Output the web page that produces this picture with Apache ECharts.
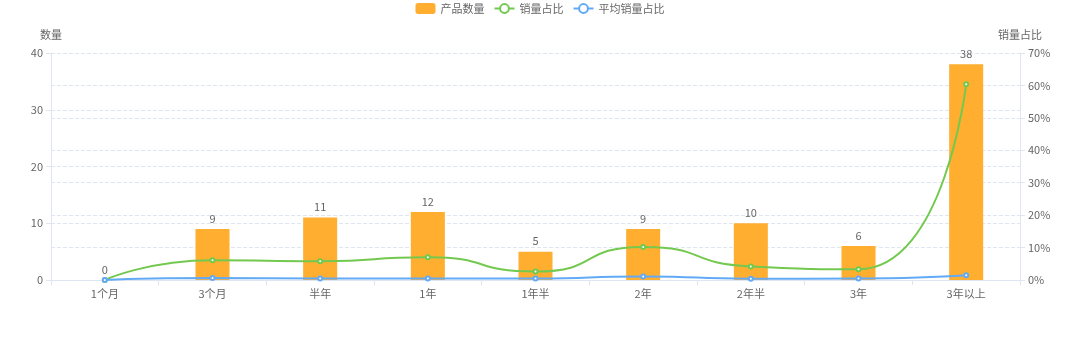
<!DOCTYPE html>
<html>
<head>
<meta charset="utf-8">
<style>
  html, body { margin: 0; padding: 0; background: #fff; }
  #chart { width: 1080px; height: 338px; }
</style>
<script src="https://cdn.jsdelivr.net/npm/echarts@6/dist/echarts.min.js"></script>
</head>
<body>
<div id="chart"></div>
<script>
// 数据
const categories = ['1个月', '3个月', '半年', '1年', '1年半', '2年', '2年半', '3年', '3年以上'];
const productCount = [0, 9, 11, 12, 5, 9, 10, 6, 38];
const salesShare = [0, 6.1, 5.8, 7.0, 2.6, 10.2, 4.2, 3.3, 60.4];
const avgSalesShare = [0, 0.6, 0.5, 0.5, 0.5, 1.1, 0.4, 0.5, 1.5];

const chart = echarts.init(document.getElementById('chart'));
const font = '"Noto Sans CJK SC", sans-serif';
const gray = '#666';
const lineColor = '#E0E6F1';
const fs = 11;

chart.setOption({
  animation: false,
  textStyle: { fontFamily: font },
  legend: {
    top: 3,
    padding: 0,
    left: 'center',
    itemWidth: 20,
    itemHeight: 11,
    itemGap: 9,
    textStyle: { color: gray, fontSize: fs, fontFamily: font },
    data: ['产品数量', '销量占比', '平均销量占比']
  },
  grid: { left: 51, right: 60, top: 53, bottom: 58 },
  xAxis: {
    type: 'category',
    data: categories,
    axisLine: { lineStyle: { color: lineColor } },
    axisTick: { show: true, lineStyle: { color: lineColor } },
    axisLabel: { color: gray, fontSize: fs, fontFamily: font }
  },
  yAxis: [
    {
      type: 'value',
      name: '数量',
      min: 0, max: 40, interval: 10,
      nameGap: 13,
      nameTextStyle: { color: gray, fontSize: fs, fontFamily: font },
      axisLine: { show: true, lineStyle: { color: lineColor } },
      axisTick: { show: true, lineStyle: { color: lineColor } },
      axisLabel: { color: gray, fontSize: fs },
      splitLine: { lineStyle: { type: 'dashed', color: lineColor } }
    },
    {
      type: 'value',
      name: '销量占比',
      min: 0, max: 70, interval: 10,
      nameGap: 13,
      nameTextStyle: { color: gray, fontSize: fs, fontFamily: font },
      axisLine: { show: true, lineStyle: { color: lineColor } },
      axisTick: { show: true, lineStyle: { color: lineColor } },
      axisLabel: { color: gray, fontSize: fs, formatter: '{value}%' },
      splitLine: { lineStyle: { type: 'dashed', color: lineColor } }
    }
  ],
  series: [
    {
      name: '产品数量',
      type: 'bar',
      barWidth: 34,
      data: productCount,
      itemStyle: { color: '#FFAE2F' },
      label: { show: true, position: 'top', color: gray, fontSize: fs }
    },
    {
      name: '销量占比',
      type: 'line',
      yAxisIndex: 1,
      smooth: 0.6,
      data: salesShare,
      symbol: 'emptyCircle',
      symbolSize: 4,
      lineStyle: { color: '#73C94F', width: 2 },
      itemStyle: { color: '#73C94F' }
    },
    {
      name: '平均销量占比',
      type: 'line',
      yAxisIndex: 1,
      smooth: 0.6,
      data: avgSalesShare,
      symbol: 'emptyCircle',
      symbolSize: 4,
      lineStyle: { color: '#63AAF6', width: 2 },
      itemStyle: { color: '#63AAF6' }
    }
  ]
});
</script>
</body>
</html>
